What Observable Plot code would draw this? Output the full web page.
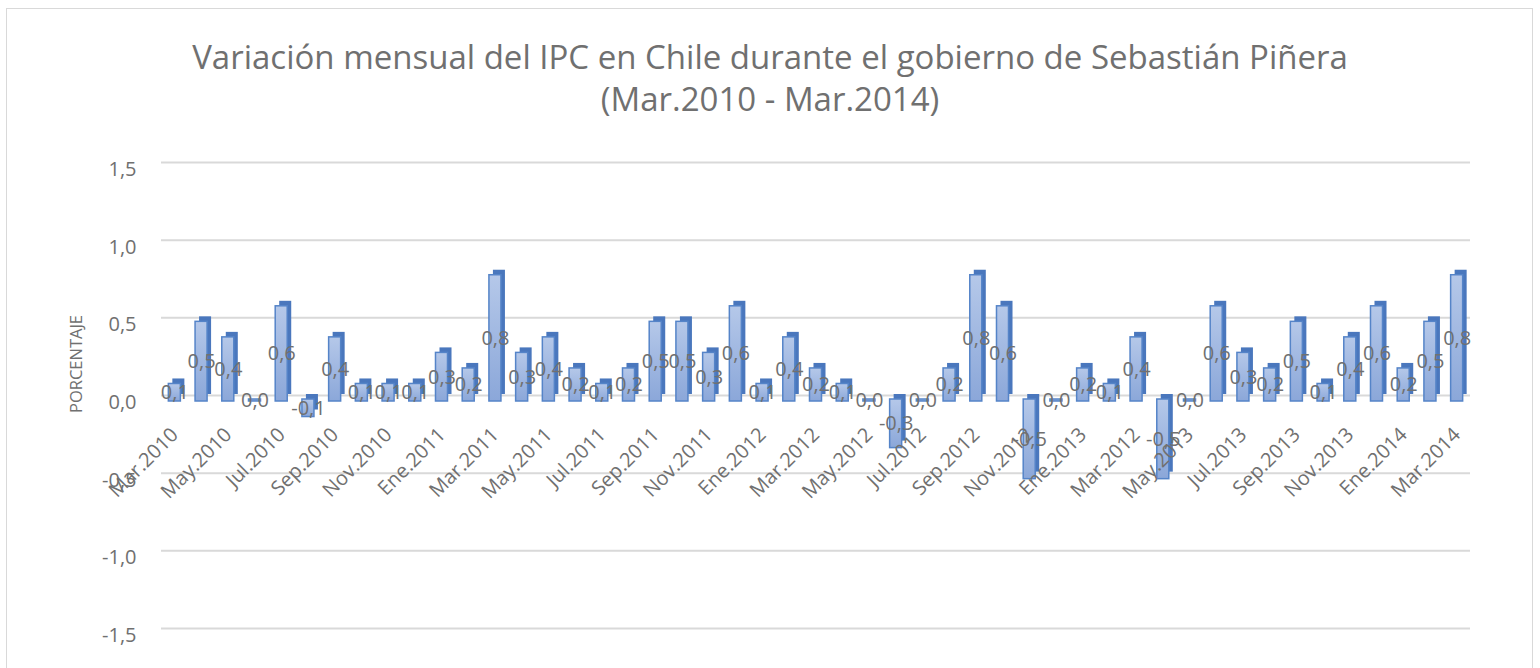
<!DOCTYPE html>
<html>
<head>
<meta charset="utf-8">
<script src="https://cdn.jsdelivr.net/npm/d3@7"></script>
<script src="https://cdn.jsdelivr.net/npm/@observablehq/plot@0.6"></script>
<style>
  body { margin: 0; background: #fff; font-family: "Open Sans", sans-serif; width: 1540px; height: 668px; overflow: hidden; position: relative; }
  #frame { position: absolute; left: 6px; top: 8px; width: 1527px; height: 700px; border: 1.5px solid #d9d9d9; box-sizing: border-box; }
  #title { position: absolute; left: 0; top: 36px; width: 1540px; text-align: center; font-size: 33px; line-height: 42px; color: #707070; }
  #ylabel { position: absolute; left: 75px; top: 364px; transform: translate(-50%, -50%) rotate(-90deg); font-size: 16.5px; color: #707070; white-space: nowrap; }
  #chart { position: absolute; left: 0; top: 120px; }
</style>
</head>
<body>
<svg width="0" height="0" style="position:absolute">
  <defs>
    <linearGradient id="barGrad" x1="0" y1="0" x2="0" y2="1">
      <stop offset="0%" stop-color="#b5c8e9"/>
      <stop offset="100%" stop-color="#8ba7d9"/>
    </linearGradient>
  </defs>
</svg>
<div id="frame"></div>
<div id="title">Variación mensual del IPC en Chile durante el gobierno de Sebastián Piñera<br>(Mar.2010 - Mar.2014)</div>
<div id="ylabel">PORCENTAJE</div>
<div id="chart"></div>
<script>
// Months Mar.2010 – Mar.2014 (label at index 36 reads "Mar.2012" in the original chart)
const months = [
  "Mar.2010","Abr.2010","May.2010","Jun.2010","Jul.2010","Ago.2010","Sep.2010","Oct.2010","Nov.2010","Dic.2010",
  "Ene.2011","Feb.2011","Mar.2011","Abr.2011","May.2011","Jun.2011","Jul.2011","Ago.2011","Sep.2011","Oct.2011","Nov.2011","Dic.2011",
  "Ene.2012","Feb.2012","Mar.2012","Abr.2012","May.2012","Jun.2012","Jul.2012","Ago.2012","Sep.2012","Oct.2012","Nov.2012","Dic.2012",
  "Ene.2013","Feb.2013","Mar.2012","Abr.2013","May.2013","Jun.2013","Jul.2013","Ago.2013","Sep.2013","Oct.2013","Nov.2013","Dic.2013",
  "Ene.2014","Feb.2014","Mar.2014"
];
const values = [
  0.1, 0.5, 0.4, 0.0, 0.6, -0.1, 0.4, 0.1, 0.1, 0.1,
  0.3, 0.2, 0.8, 0.3, 0.4, 0.2, 0.1, 0.2, 0.5, 0.5, 0.3, 0.6,
  0.1, 0.4, 0.2, 0.1, 0.0, -0.3, 0.0, 0.2, 0.8, 0.6, -0.5, 0.0,
  0.2, 0.1, 0.4, -0.5, 0.0, 0.6, 0.3, 0.2, 0.5, 0.1, 0.4, 0.6,
  0.2, 0.5, 0.8
];
const yTicks = [-1.5, -1.0, -0.5, 0.0, 0.5, 1.0, 1.5];

const data = values.map((v, i) => ({i, v, m: months[i]}));
const fmt = v => v.toFixed(1).replace(".", ",");
const gray = "#707070";

const chart = Plot.plot({
  width: 1540,
  height: 548,
  marginLeft: 161,
  marginRight: 70,
  marginTop: 42,
  marginBottom: 40,
  style: {fontFamily: "'Open Sans', sans-serif", background: "transparent"},
  x: {type: "band", domain: d3.range(values.length), paddingInner: 0.55, paddingOuter: 0.275, axis: null},
  y: {domain: [-1.5, 1.5], axis: null},
  marks: [
    Plot.gridY(yTicks, {stroke: "#d9d9d9", strokeOpacity: 1, strokeWidth: 2}),
    Plot.axisY(yTicks, {tickSize: 0, tickPadding: 25, tickFormat: fmt, fontSize: 20, fill: gray, dy: 7, label: null}),
    // back/side face of the 3D bars
    Plot.rectY(data, {x: "i", y1: 0, y2: "v", fill: "#4a77bd", dx: 4, dy: -1}),
    // front face
    Plot.rectY(data, {x: "i", y1: 0, y2: "v", fill: "url(#barGrad)", stroke: "#5584c8", strokeWidth: 1.5, dy: 5, insetTop: -1, insetBottom: -1}),
    // data labels
    Plot.text(data, {x: "i", y: d => d.v / 2, text: d => fmt(d.v), fontSize: 20, fill: gray, dy: 5}),
    // category labels (every other month)
    Plot.text(data.filter(d => d.i % 2 === 0), {x: "i", y: () => 0, text: "m", rotate: -45, textAnchor: "end", fontSize: 20, fill: gray, dx: 0, dy: 36})
  ]
});
document.getElementById("chart").appendChild(chart);
</script>
</body>
</html>
